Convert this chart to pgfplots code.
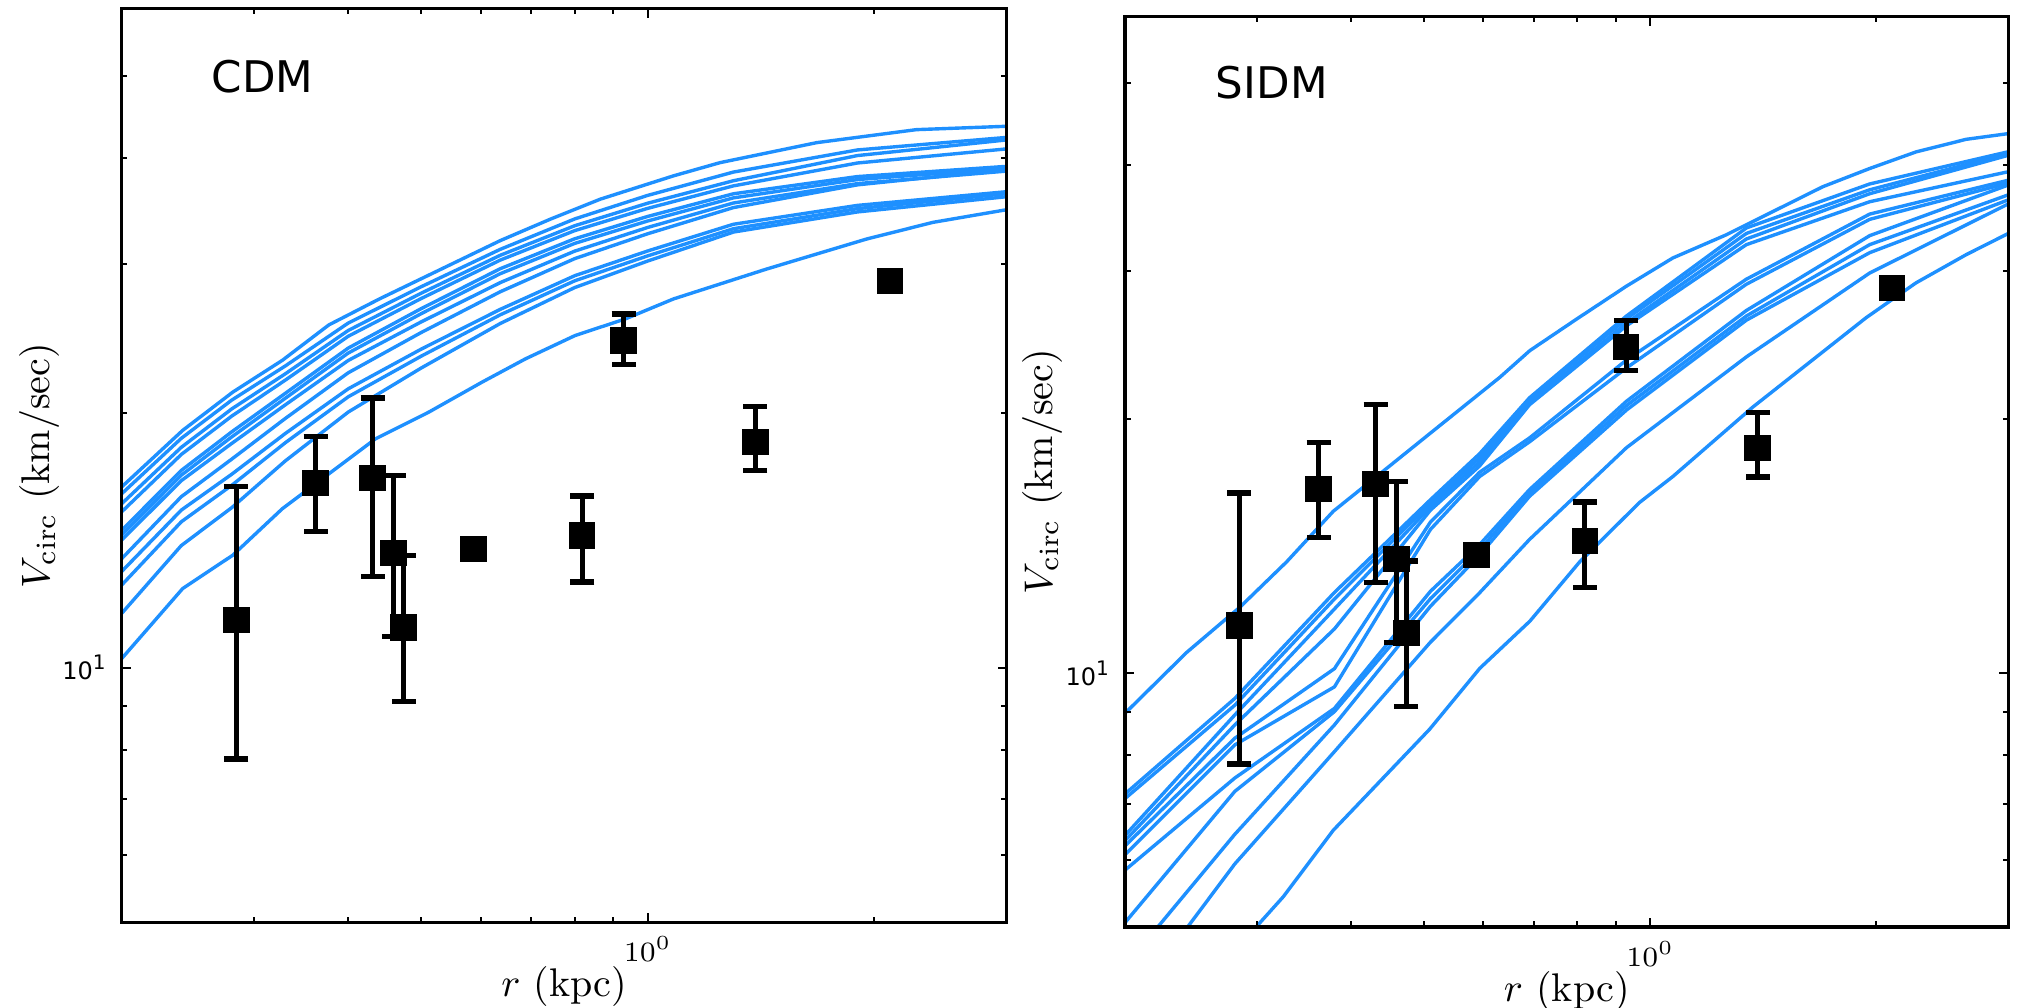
\documentclass[border=0pt]{standalone}
\usepackage{pgfplots}
\pgfplotsset{compat=1.18}
\usepackage{fontspec}
\newfontfamily\dejavu{DejaVu Sans}
\definecolor{curveblue}{RGB}{30,144,255}
\pgfplotscreateplotcyclelist{bluelines}{{curveblue,line width=0.85pt}\\}

% rotation-curve measurements: radius (kpc), velocity (km/s), upper and lower errors
\newcommand{\errpoints}{%
  \addplot[only marks, mark=square*, mark size=3.1pt,
    mark options={fill=black, draw=black, line width=0.4pt},
    error bars/y dir=both, error bars/y explicit,
    error bars/error bar style={line width=1.3pt, black},
    error bars/error mark options={rotate=90, mark size=3pt, line width=1.3pt, black}]
  coordinates {
    (0.284,11.38)  += (0,4.97) -= (0,3.58)
    (0.362,16.53)  += (0,2.23) -= (0,2.04)
    (0.431,16.76)  += (0,4.06) -= (0,3.96)
    (0.4595,13.66) += (0,3.20) -= (0,2.78)
    (0.4737,11.15) += (0,2.43) -= (0,2.02)
    (0.8185,14.33) += (0,1.62) -= (0,1.71)
    (0.929,24.35)  += (0,1.82) -= (0,1.52)
    (1.39,18.47)   += (0,1.88) -= (0,1.39)
  };
  \addplot[only marks, mark=square*, mark size=3.1pt,
    mark options={fill=black, draw=black, line width=0.4pt}]
  coordinates {(0.587,13.80) (2.097,28.62)};
}

\begin{document}
\begin{tikzpicture}
\useasboundingbox (0,0) rectangle (504.75pt,251.75pt);

% ---------------- CDM ----------------
\begin{axis}[at={(30.43pt,21.13pt)}, anchor=south west,
  width=221.25pt, height=228.4pt,
  xmode=log, ymode=log, scale only axis, axis on top,
  xmin=0.2, xmax=3, ymin=5, ymax=60,
  xtick={1}, xticklabels={$10^{0}$},
  minor xtick={0.3,0.4,0.5,0.6,0.7,0.8,0.9,2},
  ytick={10}, yticklabels={{\dejavu 10\textsuperscript{1}}},
  minor ytick={6,7,8,9,20,30,40,50},
  tick align=inside,
  major tick length=2.3pt, minor tick length=1.4pt,
  tick style={black, line width=0.5pt},
  axis line style={line width=0.8pt},
  xticklabel style={font=\fontsize{7}{8}\selectfont},
  yticklabel style={font=\fontsize{6}{7}\selectfont},
  xlabel={$r$ (kpc)},
  ylabel={$V_{\mathrm{circ}}$ (km/sec)},
  xlabel style={font=\fontsize{10}{12}\selectfont, at={(axis description cs:0.5,0)}, anchor=base, yshift=-18.5pt},
  ylabel style={font=\fontsize{10}{12}\selectfont, at={(axis description cs:-0.0696,0.5)}, anchor=south, inner sep=0pt},
  cycle list name=bluelines,
]
\addplot coordinates {(0.2,16.35)(0.241,19.07)(0.281,21.16)(0.327,23.07)(0.377,25.4)(0.44,27.26)(0.637,31.95)(0.742,33.86)(0.865,35.76)(1.082,38.1)(1.248,39.5)(1.677,41.7)(2.275,43.2)(3.0,43.6)};
\addplot coordinates {(0.2,16.05)(0.24,18.66)(0.28,20.70)(0.33,22.72)(0.4,25.53)(0.5,28.18)(0.637,31.20)(0.8,33.89)(1.0,36.13)(1.3,38.50)(1.9,40.88)(3.0,42.30)};
\addplot coordinates {(0.2,15.62)(0.24,18.21)(0.28,20.21)(0.33,22.24)(0.4,25.02)(0.5,27.69)(0.637,30.70)(0.8,33.27)(1.0,35.37)(1.3,37.60)(1.9,40.26)(3.0,42.01)};
\addplot coordinates {(0.2,15.28)(0.24,17.86)(0.28,19.82)(0.33,21.86)(0.4,24.63)(0.5,27.29)(0.637,30.30)(0.8,32.83)(1.0,34.88)(1.3,37.08)(1.9,39.46)(3.0,41.00)};
\addplot coordinates {(0.2,14.53)(0.24,17.10)(0.28,18.99)(0.33,21.09)(0.4,23.85)(0.5,26.55)(0.637,29.60)(0.8,32.11)(1.0,34.12)(1.3,36.29)(1.9,38.03)(3.0,39.10)};
\addplot coordinates {(0.2,14.34)(0.24,16.88)(0.28,18.73)(0.33,20.81)(0.4,23.53)(0.5,26.19)(0.637,29.20)(0.8,31.71)(1.0,33.70)(1.3,35.89)(1.9,37.72)(3.0,38.90)};
\addplot coordinates {(0.2,14.15)(0.24,16.63)(0.28,18.40)(0.33,20.44)(0.4,23.06)(0.5,25.61)(0.637,28.50)(0.8,31.05)(1.0,33.11)(1.3,35.39)(1.9,37.31)(3.0,38.60)};
\addplot coordinates {(0.2,13.45)(0.24,15.92)(0.28,17.63)(0.33,19.70)(0.4,22.30)(0.5,24.88)(0.637,27.80)(0.8,30.42)(1.0,32.55)(1.3,34.95)(1.9,37.18)(3.0,38.77)};
\addplot coordinates {(0.2,12.99)(0.24,15.35)(0.28,16.92)(0.33,18.91)(0.4,21.35)(0.5,23.78)(0.637,26.50)(0.8,29.04)(1.0,31.06)(1.3,33.40)(1.9,35.16)(3.0,36.50)};
\addplot coordinates {(0.2,12.52)(0.24,14.87)(0.28,16.42)(0.33,18.44)(0.4,20.89)(0.5,23.33)(0.637,26.11)(0.8,28.64)(1.0,30.65)(1.3,33.00)(1.9,34.85)(3.0,36.30)};
\addplot coordinates {(0.2,11.59)(0.24,13.94)(0.28,15.45)(0.33,17.55)(0.4,20.04)(0.5,22.59)(0.637,25.50)(0.8,28.12)(1.0,30.22)(1.3,32.70)(1.9,34.54)(3.0,36.00)};
\addplot coordinates {(0.2,10.25)(0.241,12.40)(0.281,13.58)(0.327,15.41)(0.435,18.64)(0.512,20.04)(0.603,21.75)(0.688,23.16)(0.801,24.68)(0.934,25.82)(1.082,27.26)(1.439,29.57)(1.953,32.08)(2.393,33.57)(3.0,34.75)};
\errpoints
\node[anchor=base west, inner sep=0pt, font={\dejavu\fontsize{10.9}{13}\selectfont}]
  at (rel axis cs:0.101,0.909) {CDM};
\end{axis}

% ---------------- SIDM ----------------
\begin{axis}[at={(281.25pt,20pt)}, anchor=south west,
  width=220.9pt, height=227.6pt,
  xmode=log, ymode=log, scale only axis, axis on top,
  xmin=0.2, xmax=3, ymin=5, ymax=60,
  xtick={1}, xticklabels={$10^{0}$},
  minor xtick={0.3,0.4,0.5,0.6,0.7,0.8,0.9,2},
  ytick={10}, yticklabels={{\dejavu 10\textsuperscript{1}}},
  minor ytick={6,7,8,9,20,30,40,50},
  tick align=inside,
  major tick length=2.3pt, minor tick length=1.4pt,
  tick style={black, line width=0.5pt},
  axis line style={line width=0.8pt},
  xticklabel style={font=\fontsize{7}{8}\selectfont},
  yticklabel style={font=\fontsize{6}{7}\selectfont},
  xlabel={$r$ (kpc)},
  ylabel={$V_{\mathrm{circ}}$ (km/sec)},
  xlabel style={font=\fontsize{10}{12}\selectfont, at={(axis description cs:0.5,0)}, anchor=base, yshift=-18.5pt},
  ylabel style={font=\fontsize{10}{12}\selectfont, at={(axis description cs:-0.0702,0.5)}, anchor=south, inner sep=0pt},
  cycle list name=bluelines,
]
\addplot coordinates {(0.2,8.96)(0.2416,10.58)(0.2844,11.97)(0.3283,13.55)(0.3786,15.55)(0.4412,17.35)(0.504,19.09)(0.631,22.42)(0.6916,24.11)(0.798,26.27)(0.93,28.75)(1.072,31.05)(1.263,33.08)(1.427,34.92)(1.697,37.71)(1.958,39.63)(2.259,41.47)(2.634,42.92)(3.0,43.6)};
\addplot coordinates {(0.2,7.19)(0.28,9.33)(0.38,12.46)(0.51,16.05)(0.593,18.2)(0.691,21.2)(0.93,26.5)(1.343,33.7)(1.96,38.0)(3.0,41.5)};
\addplot coordinates {(0.2,7.10)(0.28,9.16)(0.38,12.24)(0.51,15.9)(0.593,18.0)(0.691,21.1)(0.93,26.3)(1.343,33.2)(1.96,37.4)(3.0,41.3)};
\addplot coordinates {(0.2,6.42)(0.28,8.92)(0.38,11.91)(0.51,15.75)(0.593,17.8)(0.691,20.9)(0.93,26.0)(1.343,32.7)(1.96,37.0)(3.0,41.1)};
\addplot coordinates {(0.2,6.33)(0.28,8.68)(0.38,11.28)(0.51,15.6)(0.593,17.6)(0.691,20.8)(0.93,25.8)(1.343,32.2)(1.96,36.2)(3.0,39.3)};
\addplot coordinates {(0.2,6.24)(0.28,8.37)(0.38,10.12)(0.51,15.1)(0.593,17.3)(0.691,19.0)(0.93,23.5)(1.343,29.3)(1.96,35.0)(3.0,38.4)};
\addplot coordinates {(0.2,6.09)(0.28,8.22)(0.38,9.63)(0.51,14.8)(0.593,17.1)(0.691,18.8)(0.93,23.0)(1.343,28.9)(1.96,34.5)(3.0,38.1)};
\addplot coordinates {(0.2,5.84)(0.28,7.51)(0.38,9.08)(0.51,12.5)(0.593,14.2)(0.691,16.5)(0.93,21.0)(1.343,26.9)(1.96,33.0)(3.0,37.9)};
\addplot coordinates {(0.2,5.06)(0.28,7.24)(0.38,9.00)(0.51,12.25)(0.593,14.0)(0.691,16.35)(0.93,20.75)(1.343,26.5)(1.96,32.2)(3.0,36.9)};
\addplot coordinates {(0.2,4.49)(0.28,6.44)(0.38,8.68)(0.51,12.0)(0.593,13.8)(0.691,16.2)(0.93,20.5)(1.343,26.2)(1.96,31.5)(3.0,36.4)};
\addplot coordinates {(0.2,3.98)(0.28,5.94)(0.38,8.07)(0.51,10.88)(0.593,12.45)(0.691,14.4)(0.93,18.5)(1.343,23.7)(1.96,29.8)(3.0,36.0)};
\addplot coordinates {(0.28,4.67)(0.3025,5.06)(0.3248,5.43)(0.3786,6.51)(0.5088,8.58)(0.5933,10.13)(0.6916,11.52)(0.806,13.55)(0.968,15.93)(1.072,17.10)(1.37,20.67)(1.939,26.38)(2.259,29.01)(2.634,31.33)(3.0,33.21)};
\errpoints
\node[anchor=base west, inner sep=0pt, font={\dejavu\fontsize{10.9}{13}\selectfont}]
  at (rel axis cs:0.102,0.91) {SIDM};
\end{axis}
\end{tikzpicture}
\end{document}
